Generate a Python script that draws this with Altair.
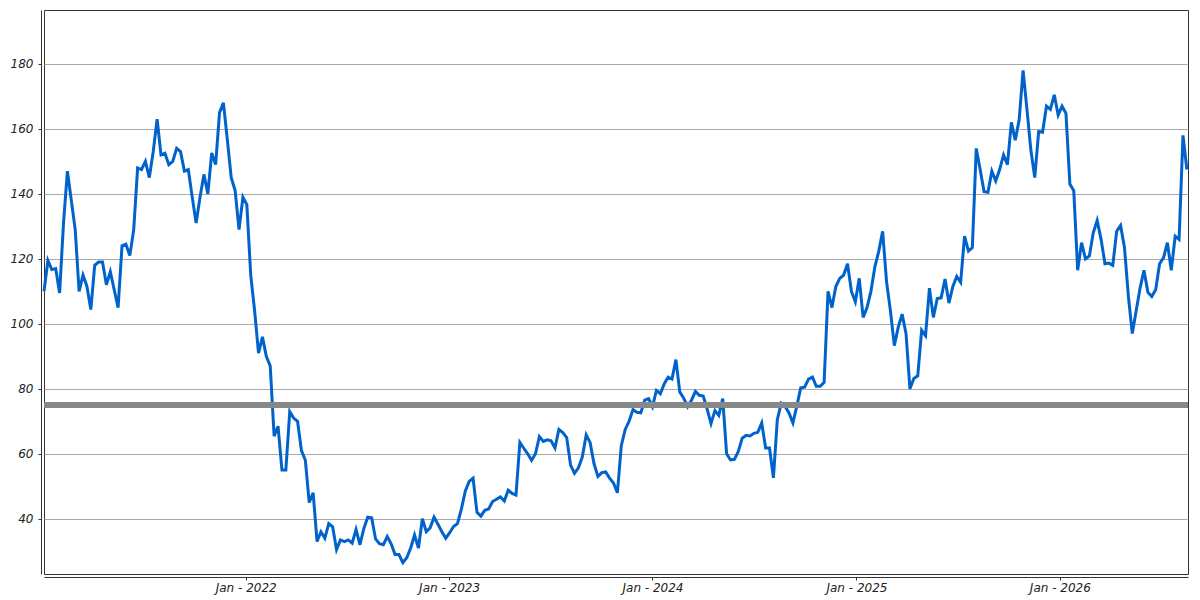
import altair as alt
import pandas as pd

start_date = "2021-01-04"
values = [
    110, 119.5, 116.7, 117, 109.5, 131, 147, 138, 129, 110,
    115, 111.6, 104.4, 118, 119, 119, 112, 116, 110.5, 105,
    124, 124.5, 121, 129, 148, 147.5, 150, 145, 153, 163,
    152, 152.5, 149, 150, 154, 153, 147, 147.5, 139, 131,
    139, 146, 140, 152.6, 149, 165, 168, 156.7, 145, 141,
    129, 139, 136.7, 115, 104, 91, 96, 90, 87, 65.4,
    68.5, 55, 55, 73, 71, 70, 61, 58, 45, 48,
    33, 36, 34, 38.5, 37.5, 30.5, 33.5, 33, 33.5, 32.5,
    36.7, 32, 37, 40.5, 40.3, 33.8, 32.3, 32, 34.5, 32.3,
    29, 29, 26.5, 28, 31, 35, 31, 40, 36, 37.2,
    40.5, 38.3, 36, 34, 35.7, 37.6, 38.5, 43, 48.5, 51.5,
    52.5, 42, 40.8, 42.6, 43, 45.3, 46, 46.7, 45.5, 48.8,
    47.8, 47.3, 63.5, 61.7, 60, 58, 60, 65.3, 63.8, 64.3,
    64, 61.8, 67.5, 66.5, 65, 56.5, 54, 55.7, 59, 65.8,
    63.5, 57, 53, 54.2, 54.4, 52.5, 51, 48, 62.5, 67.5,
    70, 73.6, 72.8, 72.6, 76.5, 77, 74.5, 79.5, 78.5, 81.5,
    83.6, 83, 89, 79, 77.1, 74.5, 76.5, 79.2, 78, 77.8,
    73.8, 69.3, 73.3, 71.8, 77, 60, 58.1, 58.3, 60.7, 64.8,
    65.7, 65.5, 66.3, 66.6, 69.5, 61.8, 61.8, 52.6, 70.5, 75.6,
    74.6, 72.6, 69.5, 74.7, 80.3, 80.5, 83, 83.6, 80.8, 80.8,
    82, 110, 105, 111.5, 114, 115, 118.5, 110, 106.8, 114,
    102, 105, 110, 117.5, 122.3, 128.5, 113, 104, 93.3, 99,
    103, 97, 80, 83.2, 84, 98, 96.3, 111, 102, 107.8,
    108, 113.8, 106.4, 111.5, 114.6, 112.8, 127, 122.4, 123.5, 154,
    147.5, 140.7, 140.5, 147, 144, 147.5, 152, 149, 162, 156.5,
    162.8, 178, 166, 153.5, 145, 159.2, 159, 167, 166, 170.5,
    164.3, 167, 164.8, 143, 141, 116.5, 125, 120, 120.9, 128,
    131.8, 126, 118.5, 118.7, 118, 128.5, 130.3, 123.5, 108.5, 97,
    104, 111, 116.5, 109.7, 108.4, 110.5, 118.5, 120.3, 125, 116.5,
    127, 126, 158, 147.5,
]
y_ticks = [40, 60, 80, 100, 120, 140, 160, 180]
reference_level = 75

dates = pd.date_range(start_date, periods=len(values), freq="7D")
df = pd.DataFrame({"date": dates, "value": values})

x_enc = alt.X(
    "date:T",
    scale=alt.Scale(domain=[alt.DateTime(year=2021, month=1, date=4),
                            alt.DateTime(year=2026, month=8, date=19)]),
    axis=alt.Axis(
        title=None, format="%b - %Y", tickCount={"interval": "year", "step": 1},
        grid=False, offset=3, tickSize=3, labelPadding=2,
        domainColor="#333333", tickColor="#333333",
    ),
)
y_enc = alt.Y(
    "value:Q",
    scale=alt.Scale(domain=[23, 196.6], nice=False, zero=False),
    axis=alt.Axis(
        title=None, values=y_ticks, grid=True, gridColor="#aaaaaa", gridWidth=1,
        offset=3, tickSize=3, labelPadding=5,
        domainColor="#333333", tickColor="#333333",
    ),
)

line = alt.Chart(df).mark_line(color="#0063cc", strokeWidth=3).encode(x=x_enc, y=y_enc)

ref = alt.Chart(df).mark_rule(color="#888888", strokeWidth=5, opacity=0.8).encode(
    y=alt.datum(reference_level)
)

chart = (
    alt.layer(line, ref)
    .properties(
        width=1144, height=564,
        autosize=alt.AutoSizeParams(type="none"),
        padding={"left": 36, "top": 2, "right": 4, "bottom": 24},
    )
    .configure_view(stroke="#333333", strokeWidth=1)
    .configure_axis(
        labelFont="DejaVu Sans", labelFontStyle="italic", labelFontSize=12,
        labelColor="#222222", domainWidth=1,
    )
)

chart.save("out.html", embed_options={"renderer": "svg", "actions": False})
